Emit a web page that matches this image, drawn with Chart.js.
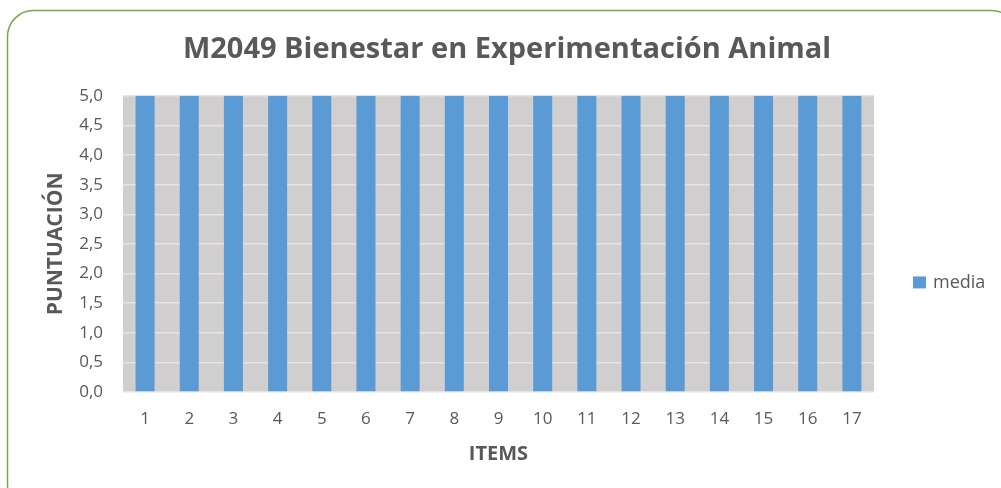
<!DOCTYPE html>
<html>
<head>
<meta charset="utf-8">
<script src="https://cdn.jsdelivr.net/npm/chart.js@4"></script>
<style>
  html, body { margin: 0; padding: 0; background: #fff; }
  #wrap { width: 1001px; height: 488px; }
</style>
</head>
<body>
<div id="wrap"><canvas id="chart" width="1001" height="488"></canvas></div>
<script>
    // datos del gráfico
    const items = ['1','2','3','4','5','6','7','8','9','10','11','12','13','14','15','16','17'];
    const media = [5,5,5,5,5,5,5,5,5,5,5,5,5,5,5,5,5];
    const yTicks = [0,0.5,1,1.5,2,2.5,3,3.5,4,4.5,5];

    const grisTexto = '#595959';
    const fuente = "'Open Sans', 'Liberation Sans', sans-serif";

    // marco redondeado verde y fondo gris del área de trazado
    const fondo = {
        id: 'fondo',
        beforeDraw(chart) {
            const c = chart.ctx;
            c.save();
            c.fillStyle = '#fff';
            c.fillRect(0, 0, chart.width, chart.height);
            c.strokeStyle = '#70ad47';
            c.lineWidth = 1.5;
            c.beginPath();
            c.roundRect(7.5, 10.5, 1010, 500, 26);
            c.stroke();
            const a = chart.chartArea;
            c.fillStyle = '#d0cece';
            c.fillRect(a.left, a.top, a.right - a.left, a.bottom - a.top);
            c.restore();
        }
    };

    // leyenda a la derecha, a la altura que tiene en Excel
    const leyenda = {
        id: 'leyenda',
        afterDraw(chart) {
            const c = chart.ctx;
            const ds = chart.data.datasets[0];
            const a = chart.chartArea;
            const x = a.right + 39;
            const y = a.top + (a.bottom - a.top) * 0.63;
            c.save();
            c.fillStyle = ds.backgroundColor;
            c.fillRect(x, y - 6, 13, 12);
            c.fillStyle = grisTexto;
            c.font = "18px " + fuente;
            c.textBaseline = 'middle';
            c.fillText(ds.label, x + 20, y);
            c.restore();
        }
    };

    new Chart(document.getElementById('chart'), {
        type: 'bar',
        data: {
            labels: items,
            datasets: [{
                label: 'media',
                data: media,
                backgroundColor: '#5b9bd5',
                barPercentage: 0.43,
                categoryPercentage: 1
            }]
        },
        options: {
            responsive: false,
            animation: false,
            layout: { padding: { left: 13, right: 0, top: 0, bottom: 21 } },
            plugins: {
                title: {
                    display: true,
                    text: 'M2049 Bienestar en Experimentación Animal',
                    color: grisTexto,
                    font: { family: fuente, size: 29, weight: 'bold' },
                    padding: { top: 32, bottom: 29 }
                },
                legend: { display: false },
                tooltip: { enabled: false }
            },
            scales: {
                x: {
                    afterFit(scale) { scale.height = 75; },
                    grid: { display: false },
                    border: { display: false },
                    ticks: { color: grisTexto, font: { family: fuente, size: 17 }, padding: 9 },
                    title: {
                        display: true,
                        text: 'ITEMS',
                        color: grisTexto,
                        font: { family: fuente, size: 20, weight: 'bold' },
                        padding: { top: 13, bottom: 1 }
                    }
                },
                y: {
                    min: 0,
                    max: 5,
                    afterBuildTicks(scale) {
                        scale.ticks = yTicks.map(v => ({ value: v }));
                    },
                    afterFit(scale) { scale.width = 110; },
                    grid: { color: '#e4e4e4', lineWidth: 1.5, drawTicks: false },
                    border: { display: false },
                    ticks: {
                        color: grisTexto,
                        font: { family: fuente, size: 17 },
                        padding: 20,
                        callback: v => v.toFixed(1).replace('.', ',')
                    },
                    title: {
                        display: true,
                        text: 'PUNTUACIÓN',
                        color: grisTexto,
                        font: { family: fuente, size: 21, weight: 'bold' },
                        padding: { top: 30, bottom: 8 }
                    }
                },
                // espacio vacío a la derecha donde va la leyenda
                hueco: {
                    position: 'right',
                    afterFit(scale) { scale.width = 127; },
                    grid: { display: false },
                    border: { display: false },
                    ticks: { display: false }
                }
            }
        },
        plugins: [fondo, leyenda]
    });
</script>
</body>
</html>
